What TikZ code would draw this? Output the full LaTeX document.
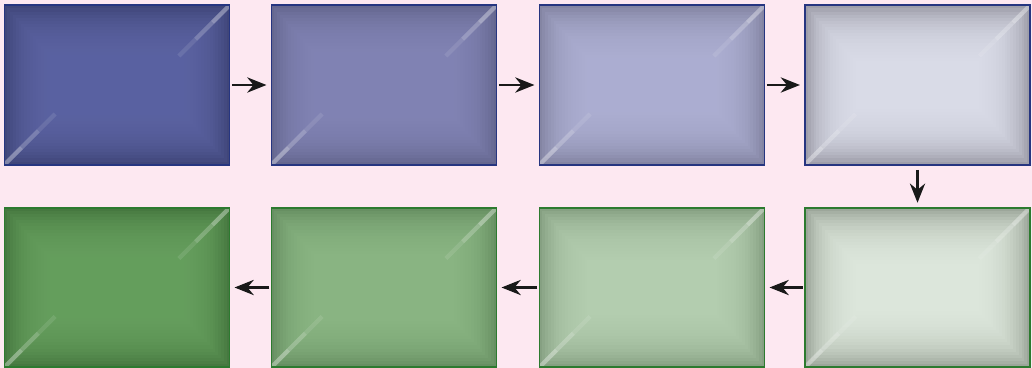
\documentclass[tikz,border=0pt]{standalone}
\usetikzlibrary{arrows.meta}
\definecolor{pinkbg}{HTML}{FDE8F1}
\definecolor{frameblue}{HTML}{263580}
\definecolor{framegreen}{HTML}{2C7A2F}
\definecolor{edgeA}{HTML}{40467A}\definecolor{midA}{HTML}{6068A8}
\definecolor{edgeB}{HTML}{65678F}\definecolor{midB}{HTML}{8789BA}
\definecolor{edgeC}{HTML}{8485A3}\definecolor{midC}{HTML}{B2B4D8}
\definecolor{edgeD}{HTML}{9E9EAA}\definecolor{midD}{HTML}{E0E2EF}
\definecolor{edgeE}{HTML}{9CA69A}\definecolor{midE}{HTML}{E4EEE3}
\definecolor{edgeF}{HTML}{86A082}\definecolor{midF}{HTML}{BAD4B6}
\definecolor{edgeG}{HTML}{678F62}\definecolor{midG}{HTML}{90BB89}
\definecolor{edgeH}{HTML}{467840}\definecolor{midH}{HTML}{6BA563}
\tikzset{
  panel/.style 2 args={draw=#2, line width=1.3pt, fill=edge#1,
    minimum width=5.62cm, minimum height=3.98cm, inner sep=0pt,
    path picture={
      \foreach \i in {1,...,18}
        \fill[mid#1, opacity=0.14]
          ([shift={(\i*2pt,\i*2.2pt)}]path picture bounding box.south west)
          rectangle ([shift={(-\i*2pt,-\i*2.2pt)}]path picture bounding box.north east);
      % light mitre streaks
      \foreach \o/\a/\b in {0.35/0/12, 0.22/12/24, 0.1/24/36} {
        \draw[white, opacity=\o, line width=3pt]
          ([shift={(\a pt,\a pt)}]path picture bounding box.south west)
          -- ([shift={(\b pt,\b pt)}]path picture bounding box.south west);
        \draw[white, opacity=\o, line width=3pt]
          ([shift={(-\a pt,-\a pt)}]path picture bounding box.north east)
          -- ([shift={(-\b pt,-\b pt)}]path picture bounding box.north east);
      }
    }},
  flow/.style={-{Stealth[length=0.48cm,width=0.38cm]}, line width=1.8pt, black!90}
}
\begin{document}
\begin{tikzpicture}[x=0.025cm,y=-0.025cm]
  \fill[pinkbg] (0,0) rectangle (1032,368);
  \useasboundingbox (0,0) rectangle (1032,368);

  % top row, blue
  \foreach \n/\x/\c in {s1/117/A, s2/384/B, s3/652/C, s4/917.5/D}
    \node[panel={\c}{frameblue}] (\n) at (\x,85) {};
  % bottom row, green
  \foreach \n/\x/\c in {s8/117/H, s7/384/G, s6/652/F, s5/917.5/E}
    \node[panel={\c}{framegreen}] (\n) at (\x,287.5) {};

  \draw[flow, shorten <=1pt, shorten >=3pt] (s1) -- (s2);
  \draw[flow, shorten <=1pt, shorten >=3pt] (s2) -- (s3);
  \draw[flow, shorten <=1pt, shorten >=3pt] (s3) -- (s4);
  \draw[flow, shorten <=3pt, shorten >=3pt] (s4) -- (s5);
  \draw[flow, shorten <=1pt, shorten >=3pt] (s5) -- (s6);
  \draw[flow, shorten <=1pt, shorten >=3pt] (s6) -- (s7);
  \draw[flow, shorten <=1pt, shorten >=3pt] (s7) -- (s8);
\end{tikzpicture}
\end{document}
